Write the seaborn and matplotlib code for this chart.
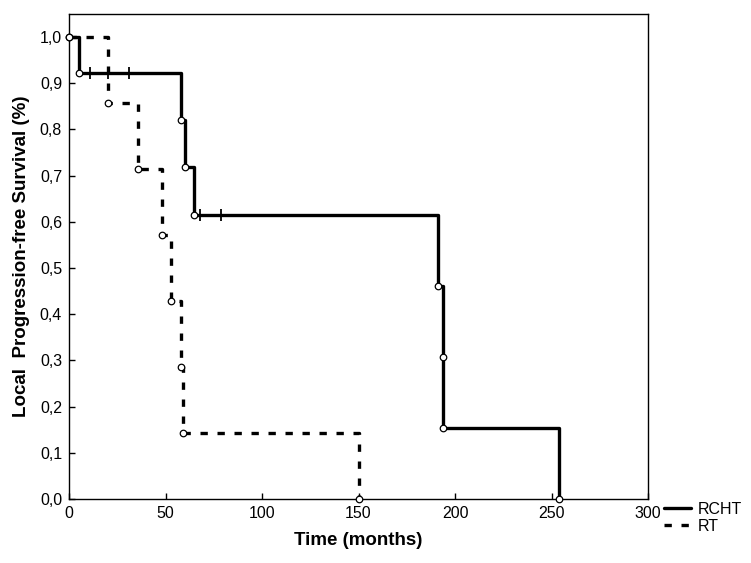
import matplotlib
matplotlib.use("Agg")
import matplotlib.pyplot as plt
from matplotlib.lines import Line2D
import numpy as np
import pandas as pd
import seaborn as sns

# Kaplan-Meier steps
rcht_time = [0, 5, 58, 60, 65, 191, 194, 194, 254]
rcht_surv = [1.0, 0.923, 0.820, 0.718, 0.615, 0.462, 0.308, 0.154, 0.0]
rcht_cens_time = [11, 20, 31, 68, 79]
rcht_cens_surv = [0.923, 0.923, 0.923, 0.615, 0.615]

rt_time = [0, 20, 36, 48, 53, 58, 59, 150]
rt_surv = [1.0, 0.857, 0.714, 0.571, 0.429, 0.286, 0.143, 0.0]

x_ticks = [0, 50, 100, 150, 200, 250, 300]
y_ticks = [0.0, 0.1, 0.2, 0.3, 0.4, 0.5, 0.6, 0.7, 0.8, 0.9, 1.0]

DASH = (0, (2.2, 2.9))

sns.set_style("white")
plt.rcParams["font.family"] = ["Liberation Sans", "DejaVu Sans"]
plt.rcParams["text.color"] = "black"
plt.rcParams["axes.labelcolor"] = "black"
plt.rcParams["xtick.color"] = "black"
plt.rcParams["ytick.color"] = "black"

fig = plt.figure(figsize=(7.51, 5.63), dpi=100)
ax = fig.add_axes([69 / 751, 1 - 499 / 563, (648 - 69) / 751, (499 - 14) / 563])

rcht = pd.DataFrame({"time": rcht_time, "surv": rcht_surv})
rt = pd.DataFrame({"time": rt_time, "surv": rt_surv})

sns.lineplot(data=rcht, x="time", y="surv", ax=ax, drawstyle="steps-post",
             estimator=None, sort=False, color="black", lw=2.4)
sns.lineplot(data=rt, x="time", y="surv", ax=ax, drawstyle="steps-post",
             estimator=None, sort=False, color="black", lw=2.4,
             linestyle=DASH)

# event circles
for df in (rcht, rt):
    sns.scatterplot(data=df, x="time", y="surv", ax=ax, marker="o", s=22,
                    facecolor="white", edgecolor="black", linewidth=0.9,
                    zorder=5, clip_on=False)

# censor ticks
sns.scatterplot(x=rcht_cens_time, y=rcht_cens_surv, ax=ax, marker="|", s=70,
                color="black", linewidth=1.3, zorder=5)

ax.set_xlim(0, 300)
ax.set_ylim(0, 1.05)
ax.set_xticks(x_ticks)
ax.set_yticks(y_ticks)
ax.set_xticklabels([str(t) for t in x_ticks])
ax.set_yticklabels([f"{v:.1f}".replace(".", ",") for v in y_ticks])
ax.tick_params(axis="both", direction="in", length=4, width=1, color="black",
               labelcolor="black", labelsize=11.5, pad=5, bottom=True, left=True)
for s in ax.spines.values():
    s.set_color("black")
    s.set_linewidth(1)

ax.set_xlabel("Time (months)", fontsize=13.5, fontweight="bold", labelpad=8,
              color="black")
ax.set_ylabel("Local  Progression-free Survival (%)", fontsize=13.5,
              fontweight="bold", labelpad=7, color="black")

handles = [Line2D([], [], color="black", lw=2.4),
           Line2D([], [], color="black", lw=2.4, linestyle=DASH)]
fig.legend(handles, ["RCHT", "RT"], loc="upper left",
           bbox_to_anchor=(664 / 751, 1 - 502 / 563), frameon=False,
           fontsize=11.5, handlelength=1.7, handletextpad=0.4,
           labelspacing=0.12, borderaxespad=0, borderpad=0,
           labelcolor="black")

fig.savefig("out.png", dpi=100)
